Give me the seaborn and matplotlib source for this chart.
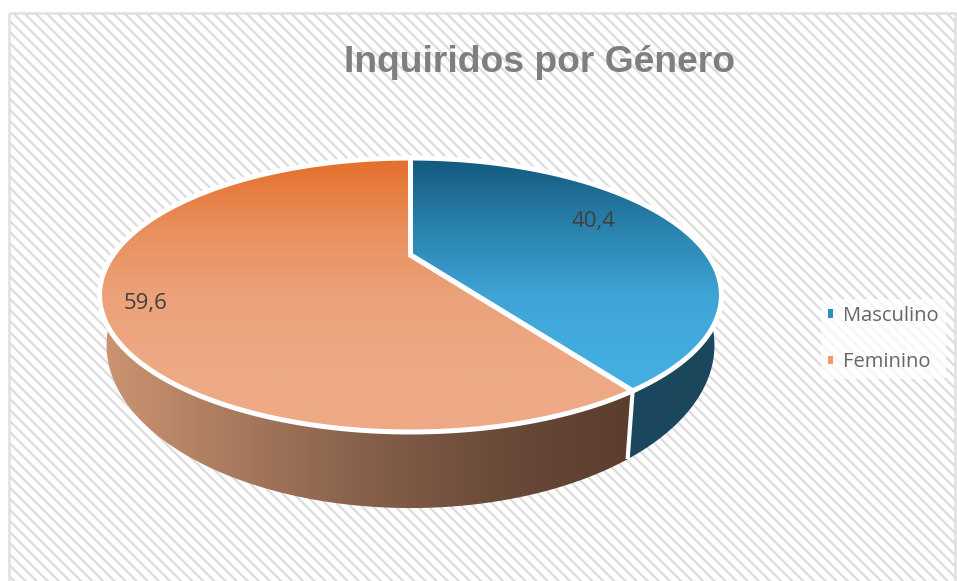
import numpy as np
import matplotlib
matplotlib.use("Agg")
import matplotlib.pyplot as plt
import seaborn as sns
from matplotlib.patches import Polygon, Rectangle, Patch

categories = ["Masculino", "Feminino"]
values = [40.4, 59.6]
value_labels = ["40,4", "59,6"]
title = "Inquiridos por Género"

sns.set_theme(style="white")
plt.rcParams["font.family"] = ["Liberation Sans", "DejaVu Sans"]
plt.rcParams["hatch.linewidth"] = 1.6
plt.rcParams["hatch.color"] = "#ebebeb"

fig = plt.figure(figsize=(9.57, 5.81), dpi=100)
ax = fig.add_axes([0, 0, 1, 1])
ax.set_axis_off()

# fundo com padrão diagonal
ax.add_patch(Rectangle((9, 13), 946, 580, facecolor="white", edgecolor="#dcdcdc", lw=0, hatch="\\\\\\", zorder=0))
ax.add_patch(Rectangle((9, 13), 946, 580, facecolor="none", edgecolor="#e0e0e0", lw=1.8, zorder=1))

# perspetiva do disco: topo e base
K = 0.292
TOP = dict(cx=410.5, cy=255, sx=297.4, sy=125.3)
BASE = dict(cx=410.5, cy=297.6, sx=290.7, sy=149.0)


def project(theta_deg, disc):
    t = np.radians(theta_deg)
    d = 1 + K * np.sin(t)
    return disc["cx"] + disc["sx"] * np.cos(t) / d, disc["cy"] - disc["sy"] * np.sin(t) / d


def arc(t1, t2, disc):
    x, y = project(np.linspace(t1, t2, 200), disc)
    return np.column_stack([x, y])


def gradient(palette, poly, extent, horizontal=False, zorder=2):
    cmap = sns.blend_palette(palette, as_cmap=True)
    g = np.linspace(0, 1, 256)
    g = g[None, :] if horizontal else g[:, None]
    im = ax.imshow(g, cmap=cmap, extent=extent, aspect="auto", zorder=zorder, interpolation="bilinear")
    clip = Polygon(poly, closed=True, transform=ax.transData)
    im.set_clip_path(clip)


# ângulos calculados a partir dos valores (sentido horário desde o topo)
angles = 90 - 360 * np.cumsum([0] + values) / sum(values)
seam = angles[1]

# faces laterais
side_blue = np.vstack([arc(seam, 25, TOP), arc(25, seam, BASE)])
side_orange = np.vstack([arc(-205, seam, TOP), arc(seam, -205, BASE)])
gradient(["#1b485e", "#1b475c"], side_blue, (620, 725, 520, 200), horizontal=True)
gradient(["#cc9572", "#a97a5e", "#86604a", "#6a4a39", "#5b3d2e"], side_orange, (100, 632, 520, 200), horizontal=True)

# separação branca entre as faces laterais
sx0, sy0 = project(seam, TOP)
sx1, sy1 = project(seam, BASE)
ax.plot([sx0, sx1], [sy0, sy1], color="white", lw=3.0, zorder=3, solid_capstyle="butt")

# faces de cima
top_palettes = [
    ["#14587e", "#2a83ae", "#3fa5d8", "#44aee0", "#44aee0"],
    ["#e46f2b", "#e98f5c", "#eca27a", "#eea985", "#eea985"],
]
for i in range(len(values)):
    t1, t2 = angles[i + 1], angles[i]
    poly = np.vstack([[[TOP["cx"], TOP["cy"]]], arc(t1, t2, TOP)])
    gradient(top_palettes[i], poly, (90, 730, 440, 158), zorder=4)
    ax.add_patch(Polygon(poly, closed=True, facecolor="none", edgecolor="white", lw=3.6, joinstyle="miter", zorder=5))

# rótulos de valores
label_pos = [(594, 221), (146, 303)]
for (lx, ly), lab in zip(label_pos, value_labels):
    ax.text(lx, ly, lab, ha="center", va="center", fontsize=16, color="#404040", family=["Open Sans", "DejaVu Sans"], zorder=6)

ax.text(539, 62, title, ha="center", va="center", fontsize=26.8, fontweight="bold", color="#7f7f7f", zorder=6)

# legenda
handles = [Patch(facecolor=c, edgecolor="none", label=n) for c, n in zip(["#2f8fc0", "#ee9a6c"], categories)]
leg = ax.legend(
    handles=handles, loc="center left", bbox_to_anchor=(821 / 957, 1 - 339 / 581),
    frameon=True, facecolor="white", edgecolor="none", framealpha=0.75,
    handlelength=0.26, handleheight=0.26, handletextpad=0.5, labelspacing=1.3,
    borderpad=0.35, borderaxespad=0, prop={"family": ["Open Sans", "DejaVu Sans"], "size": 14.5},
    labelcolor="#666666",
)
leg.set_zorder(6)

ax.set_xlim(0, 957)
ax.set_ylim(581, 0)
fig.savefig("out.png", dpi=100, facecolor="white")
